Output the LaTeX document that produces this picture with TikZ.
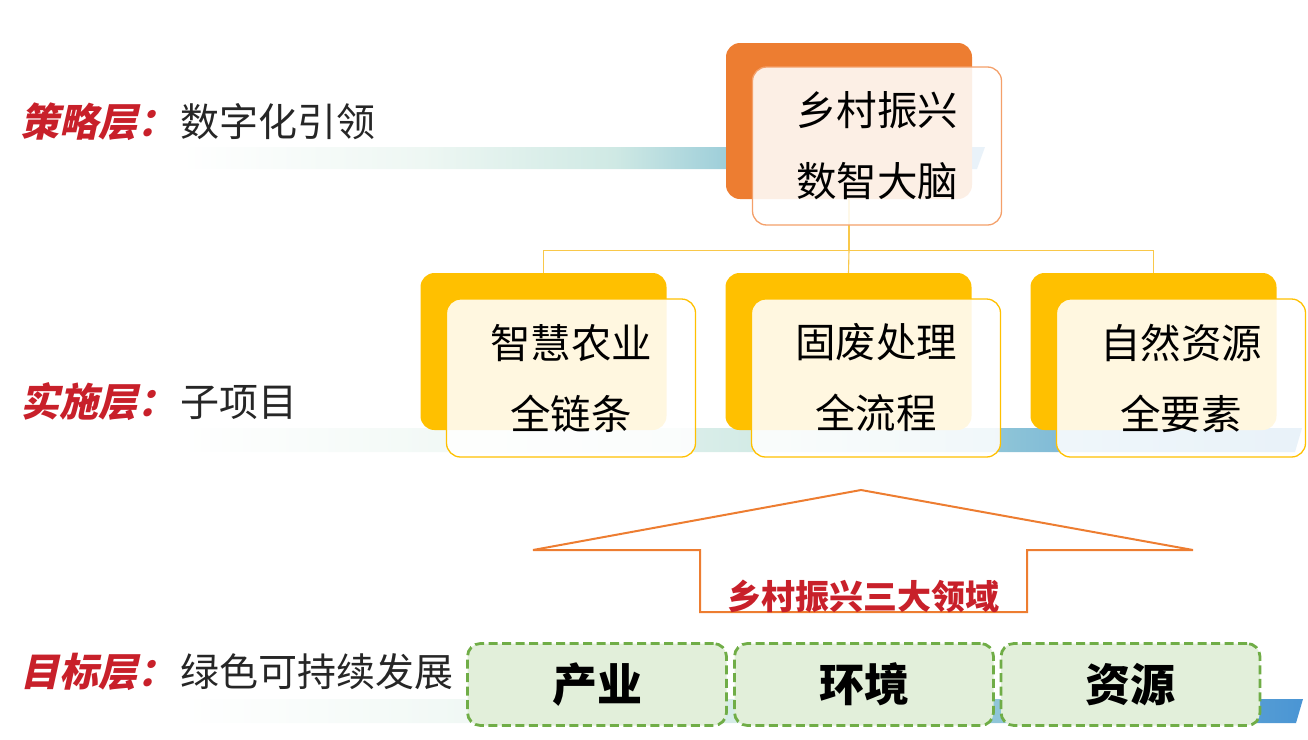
\documentclass[tikz,border=0pt]{standalone}
\usepackage{fontspec}
\setmainfont{Noto Sans CJK SC}
\newfontfamily\slantcjk[FakeSlant=0.22]{Noto Sans CJK SC}
\definecolor{orangeA}{HTML}{ED7D31}
\definecolor{orangeB}{HTML}{F4A06A}
\definecolor{yellowA}{HTML}{FFC000}
\definecolor{connC}{HTML}{F9C84A}
\definecolor{redL}{HTML}{C8202A}
\definecolor{grayT}{HTML}{262626}
\definecolor{greenF}{HTML}{E2EFDA}
\definecolor{greenD}{HTML}{70AD47}
\definecolor{barA}{HTML}{EEF7F3}
\definecolor{barB}{HTML}{CFE9E4}
\definecolor{barC}{HTML}{96CAD8}
\definecolor{barD}{HTML}{4A95D4}
\pgfdeclarehorizontalshading{barshade}{100bp}{color(0bp)=(white); color(25bp)=(white); color(40bp)=(barA); color(52bp)=(barB); color(60bp)=(barC); color(75bp)=(barD); color(100bp)=(barD)}
\begin{document}
\begin{tikzpicture}[x=1pt,y=-1pt,
  backboxO/.style={rounded corners=14pt, minimum width=246pt, minimum height=156pt, inner sep=0pt, fill=orangeA},
  backboxY/.style={rounded corners=14pt, minimum width=246pt, minimum height=157pt, inner sep=0pt, fill=yellowA},
  frontbox/.style={rounded corners=14pt, minimum width=249pt, minimum height=158pt, inner sep=0pt, fill=white, fill opacity=0.88, text opacity=1, align=center, font=\fontsize{40.5}{71}\selectfont, text=black, line width=1.3pt},
  goalbox/.style={rounded corners=13pt, minimum width=259pt, minimum height=82pt, inner sep=0pt, fill=greenF, draw=greenD, line width=2.8pt, dash pattern=on 9pt off 4.5pt, font=\fontsize{45}{50}\selectfont\bfseries, text=black},
  conn/.style={draw=connC, line width=1.1pt},
  lbl/.style={anchor=west, inner sep=0pt, font=\fontsize{39}{42}\selectfont},
  bar/.style={shading=barshade}
]
\useasboundingbox (0,0) rectangle (1308,739);
% gradient bars
\shade[bar] (180,147) -- (985,147) -- (977,169) -- (180,169) -- cycle;
\shade[bar] (180,428) -- (1302,428) -- (1295,452) -- (180,452) -- cycle;
\shade[bar] (180,699) -- (1303,699) -- (1296,723) -- (180,723) -- cycle;
% left labels
\node[lbl] (l1) at (20,122) {{\color{redL}\slantcjk\bfseries 策略层：}\hspace{4pt}{\color{grayT}数字化引领}};
\node[lbl] (l2) at (20,402) {{\color{redL}\slantcjk\bfseries 实施层：}\hspace{4pt}{\color{grayT}子项目}};
\node[lbl] (l3) at (20,672) {{\color{redL}\slantcjk\bfseries 目标层：}\hspace{4pt}{\color{grayT}绿色可持续发展}};
% back boxes
\node[backboxO] (bb) at (849,121) {};
\node[backboxY] (b1) at (543.5,351.5) {};
\node[backboxY] (b2) at (848.5,351.5) {};
\node[backboxY] (b3) at (1153.5,351.5) {};
% connectors
\draw[conn] (bb.south) -- ++(0,51) coordinate (jn) -| (b1.north);
\draw[conn] (jn) -| (b3.north);
\draw[conn] (jn) -- (b2.north);
% front boxes
\node[frontbox, draw=orangeB] (fb) at (877,146) {乡村振兴\\数智大脑};
\node[frontbox, draw=yellowA] (f1) at (571,378) {智慧农业\\全链条};
\node[frontbox, draw=yellowA] (f2) at (876,378) {固废处理\\全流程};
\node[frontbox, draw=yellowA] (f3) at (1181,378) {自然资源\\全要素};
% arrow
\draw[orangeA, line width=2pt, line join=miter] (861,490) -- (1193,550) -- (1027,550) -- (1027,612) -- (700,612) -- (700,550) -- (533,550) -- cycle;
\node[text=redL, font=\fontsize{34}{36}\selectfont\bfseries, inner sep=0pt] (al) at (863,597) {乡村振兴三大领域};
% goal boxes
\node[goalbox] (g1) at (597,684.5) {产业};
\node[goalbox] (g2) at (864,684.5) {环境};
\node[goalbox] (g3) at (1130.5,684.5) {资源};
\end{tikzpicture}
\end{document}
